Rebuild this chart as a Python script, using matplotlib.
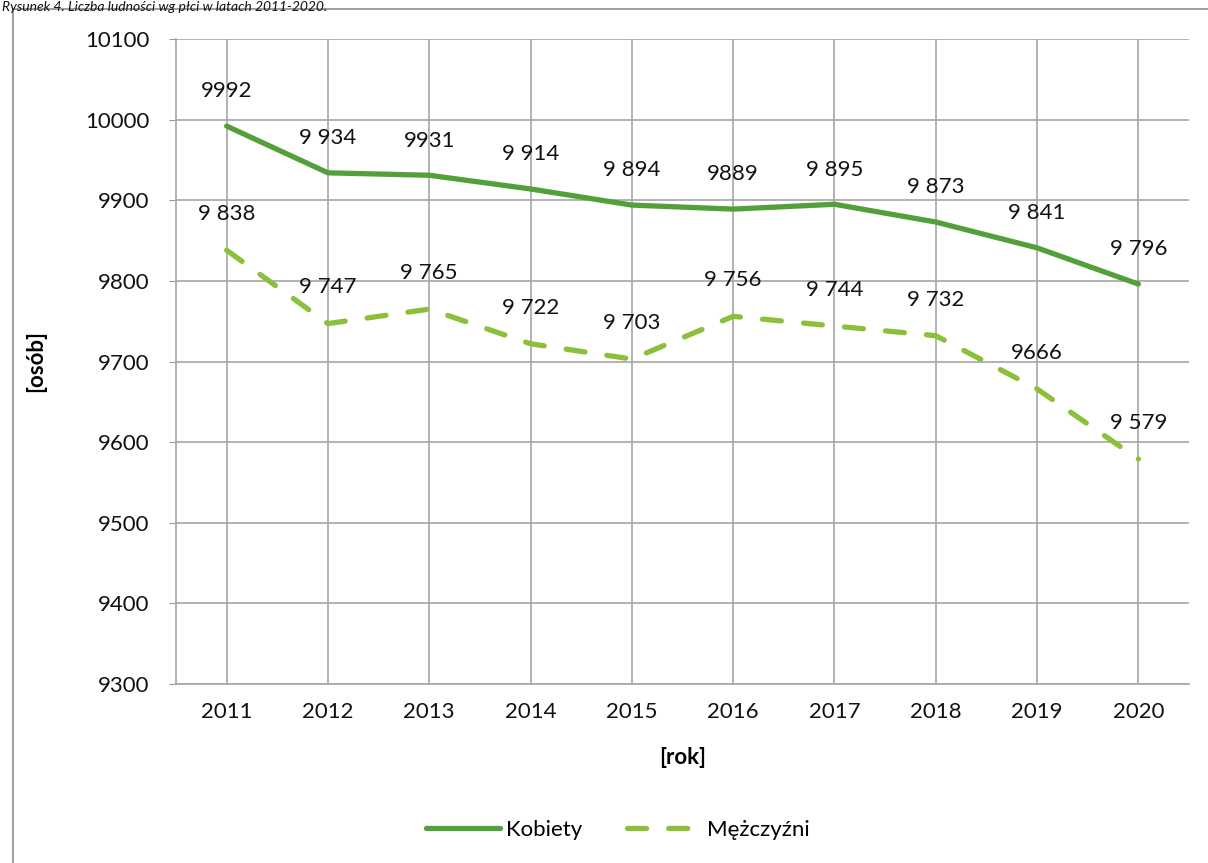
import matplotlib
matplotlib.use("Agg")
import matplotlib.pyplot as plt
from matplotlib.patches import Rectangle

plt.rcParams['font.family'] = ['Lato', 'DejaVu Sans']

years = ["2011", "2012", "2013", "2014", "2015", "2016", "2017", "2018", "2019", "2020"]
kobiety = [9992, 9934, 9931, 9914, 9894, 9889, 9895, 9873, 9841, 9796]
mezczyzni = [9838, 9747, 9765, 9722, 9703, 9756, 9744, 9732, 9666, 9579]
kobiety_labels = ["9992", "9 934", "9931", "9 914", "9 894", "9889", "9 895", "9 873", "9 841", "9 796"]
mezczyzni_labels = ["9 838", "9 747", "9 765", "9 722", "9 703", "9 756", "9 744", "9 732", "9666", "9 579"]
yticks = [9300, 9400, 9500, 9600, 9700, 9800, 9900, 10000, 10100]

W, H = 1208, 863
fig = plt.figure(figsize=(W / 100, H / 100), dpi=100)
ax = fig.add_axes([176 / W, 1 - 684 / H, (1189 - 176) / W, (684 - 39) / H])

FS = 16
c_k = "#53A03A"
c_m = "#8CBF3A"
x = list(range(len(years)))
ax.plot(x, kobiety, color=c_k, lw=3.8, solid_capstyle='round', label="Kobiety", zorder=3)
ax.plot(x, mezczyzni, color=c_m, lw=3.8, dashes=(3.6, 4.2), dash_capstyle='round',
        label="Mężczyźni", zorder=3)

for xi, v, s in zip(x, kobiety, kobiety_labels):
    ax.annotate(s, (xi, v), xytext=(0, 25), textcoords='offset points',
                ha='center', va='center', fontsize=FS, color='#111111')
for xi, v, s in zip(x, mezczyzni, mezczyzni_labels):
    ax.annotate(s, (xi, v), xytext=(0, 26), textcoords='offset points',
                ha='center', va='center', fontsize=FS, color='#111111')

ax.set_xlim(-0.5, len(years) - 0.5)
ax.set_ylim(9300, 10100)
ax.set_yticks(yticks)
ax.set_yticklabels([str(t) for t in yticks])
ax.set_xticks(x)
ax.set_xticklabels(years)
ax.tick_params(axis='both', labelsize=FS, colors='#111111', length=0, pad=13)
ax.tick_params(axis='y', length=5, color='#9a9a9a', pad=14)

ax.grid(True, color='#a6a6a6', lw=1.2)
ax.set_axisbelow(True)
for side in ['top', 'right']:
    ax.spines[side].set_visible(False)
for side in ['left', 'bottom']:
    ax.spines[side].set_color('#a6a6a6')
    ax.spines[side].set_linewidth(1.2)

ax.set_ylabel("[osób]", fontsize=FS, fontweight='bold', labelpad=28)
ax.set_xlabel("[rok]", fontsize=FS, fontweight='bold', labelpad=18)

leg = fig.legend(loc='center', bbox_to_anchor=(618 / W, 1 - 830 / H), ncol=2, frameon=False,
                 fontsize=FS, handlelength=3.3, columnspacing=2.0, handletextpad=0.3)

fig.patches.append(Rectangle((13 / W, -0.05), 1.2, 1 - 9 / H + 0.05, transform=fig.transFigure,
                             fill=False, edgecolor='#8c8c8c', lw=1.2))
fig.text(0.002, 1 - 1 / H, "Rysunek 4. Liczba ludności wg płci w latach 2011-2020.",
         fontsize=10, style='italic', va='top', ha='left', color='#111111')

fig.savefig("out.png", dpi=100)
